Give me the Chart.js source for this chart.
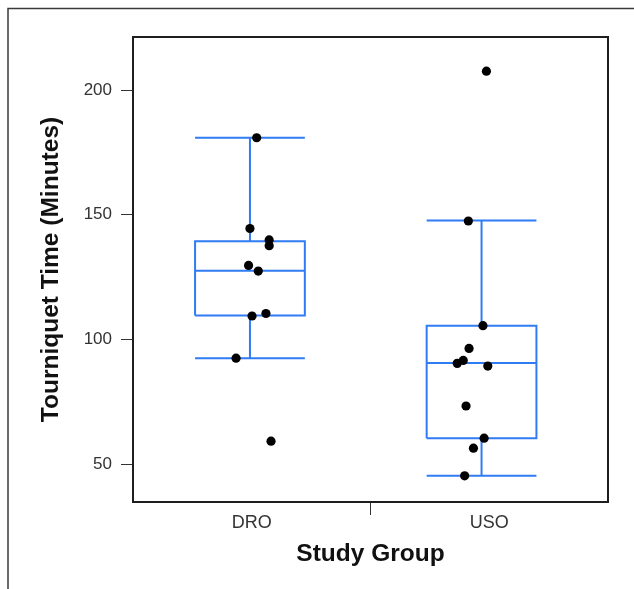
<!DOCTYPE html>
<html>
<head>
<meta charset="utf-8">
<script src="https://cdn.jsdelivr.net/npm/chart.js@4.4.1/dist/chart.umd.min.js"></script>
<style>
  html, body { margin: 0; padding: 0; background: #ffffff; }
  #wrap { position: relative; width: 634px; height: 589px; }
  canvas { display: block; }
</style>
</head>
<body>
<div id="wrap"><canvas id="c" width="634" height="589"></canvas></div>
<script>
// ---- Data ----
const groups = ['DRO', 'USO'];
const yTickValues = [50, 100, 150, 200];
const whiskerLow  = [92.5, 45.3];
const q1          = [109.6, 60.4];
const median      = [127.5, 90.5];
const q3          = [139.4, 105.5];
const whiskerHigh = [180.9, 147.7];
const droTimes  = [180.9, 144.5, 139.9, 137.6, 129.7, 127.4, 109.4, 110.4, 92.5, 59.2];
const droJitter = [0.029, 0.000, 0.083, 0.083, -0.006, 0.036, 0.009, 0.069, -0.060, 0.091];
const usoTimes  = [207.6, 147.5, 105.5, 96.4, 91.6, 90.4, 89.3, 73.3, 60.4, 56.4, 45.3];
const usoJitter = [0.021, -0.057, 0.006, -0.054, -0.079, -0.105, 0.027, -0.067, 0.011, -0.035, -0.073];

// ---- Build datasets from the data ----
const BOX_HALF = 0.237;
const GAP = { x: null, y: null };
function boxPath() {
  const pts = [];
  for (let i = 0; i < groups.length; i++) {
    const c = i, l = c - BOX_HALF, r = c + BOX_HALF;
    pts.push({x: l, y: q1[i]}, {x: r, y: q1[i]}, {x: r, y: q3[i]}, {x: l, y: q3[i]}, {x: l, y: q1[i]}, GAP);
    pts.push({x: l, y: median[i]}, {x: r, y: median[i]}, GAP);
    pts.push({x: c, y: q3[i]}, {x: c, y: whiskerHigh[i]}, GAP);
    pts.push({x: l, y: whiskerHigh[i]}, {x: r, y: whiskerHigh[i]}, GAP);
    pts.push({x: c, y: q1[i]}, {x: c, y: whiskerLow[i]}, GAP);
    pts.push({x: l, y: whiskerLow[i]}, {x: r, y: whiskerLow[i]}, GAP);
  }
  return pts;
}
const pointData = [
  ...droTimes.map((v, k) => ({x: 0 + droJitter[k], y: v})),
  ...usoTimes.map((v, k) => ({x: 1 + usoJitter[k], y: v}))
];

const framePlugin = {
  id: 'frame',
  afterDraw(chart) {
    const {ctx, chartArea: a} = chart;
    ctx.save();
    // outer picture frame (top and left edges)
    ctx.strokeStyle = '#3a3a3a';
    ctx.lineWidth = 1.5;
    ctx.beginPath();
    ctx.moveTo(8, 589);
    ctx.lineTo(8, 8.5);
    ctx.lineTo(634, 8.5);
    ctx.stroke();
    // plot frame
    ctx.strokeStyle = '#1e1e1e';
    ctx.lineWidth = 2;
    ctx.strokeRect(a.left, a.top, a.right - a.left, a.bottom - a.top);
    ctx.restore();
  }
};

new Chart(document.getElementById('c'), {
  type: 'scatter',
  data: {
    datasets: [
      {
        label: 'Tourniquet time',
        data: pointData,
        pointRadius: 4.6,
        pointBackgroundColor: '#000000',
        pointBorderColor: '#000000',
        pointBorderWidth: 0,
        showLine: false,
        order: 0
      },
      {
        label: 'Box',
        data: boxPath(),
        showLine: true,
        spanGaps: false,
        pointRadius: 0,
        borderColor: '#2f7cf4',
        borderWidth: 2,
        fill: false,
        order: 1
      }
    ]
  },
  options: {
    responsive: false,
    devicePixelRatio: 1,
    animation: false,
    layout: { padding: { left: 0, top: 37, right: 26, bottom: 0 } },
    plugins: { legend: { display: false }, tooltip: { enabled: false } },
    scales: {
      x: {
        type: 'linear',
        display: false,
        min: -0.505,
        max: 1.546
      },
      xc: {
        type: 'category',
        position: 'bottom',
        labels: groups,
        offset: true,
        grid: {
          offset: true,
          drawOnChartArea: false,
          drawTicks: true,
          tickLength: 13,
          lineWidth: 1,
          color: (ctx) => ctx.index === 1 ? '#333333' : 'rgba(0,0,0,0)'
        },
        border: { display: false },
        ticks: {
          color: '#333333',
          padding: -3,
          font: { family: 'Liberation Sans, Arial, sans-serif', size: 18 }
        },
        title: {
          display: true,
          text: 'Study Group',
          color: '#111111',
          padding: { top: 0, bottom: 20 },
          font: { family: 'Liberation Sans, Arial, sans-serif', size: 24.5, weight: 'bold' }
        },
        afterFit(scale) { scale.height = 87; }
      },
      y: {
        type: 'linear',
        min: 34.8,
        max: 221.3,
        afterBuildTicks(scale) { scale.ticks = yTickValues.map(v => ({ value: v })); },
        grid: {
          drawOnChartArea: false,
          drawTicks: true,
          tickLength: 12,
          lineWidth: 1,
          color: '#333333'
        },
        border: { display: false },
        ticks: {
          color: '#333333',
          padding: 9,
          font: { family: 'Liberation Sans, Arial, sans-serif', size: 17 }
        },
        title: {
          display: true,
          text: 'Tourniquet Time (Minutes)',
          color: '#111111',
          padding: { top: 37, bottom: 0 },
          font: { family: 'Liberation Sans, Arial, sans-serif', size: 24.5, weight: 'bold' }
        },
        afterFit(scale) { scale.width = 133; }
      }
    }
  },
  plugins: [framePlugin]
});
</script>
</body>
</html>
